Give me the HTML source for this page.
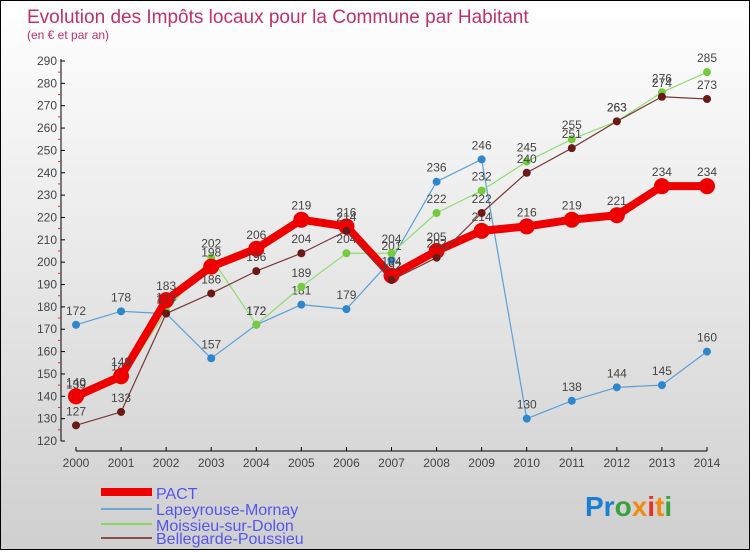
<!DOCTYPE html>
<html><head><meta charset="utf-8"><style>
body{margin:0;width:750px;height:550px;overflow:hidden;font-family:"Liberation Sans",sans-serif}
#wrap{position:relative;width:748px;height:548px;border:1px solid #000;background:linear-gradient(#ffffff,#cfcfcf)}
svg text{font-family:"Liberation Sans",sans-serif}
</style></head><body>
<div id="wrap">
<svg id="chart" width="748" height="548">
<text x="26" y="22" font-size="19" fill="#c0306a">Evolution des Impôts locaux pour la Commune par Habitant</text>
<text x="26" y="38" font-size="12" fill="#c0306a">(en € et par an)</text>
<g id="axes"></g><g id="series"></g>
<g>
<rect x="100" y="487" width="51" height="8" fill="#ee0000"/>
<text x="155" y="498" font-size="16" fill="#5555ee">PACT</text>
<rect x="100" y="507" width="51" height="2" fill="#6fa7d0"/>
<text x="155" y="514" font-size="16" fill="#5555ee">Lapeyrouse-Mornay</text>
<rect x="100" y="522" width="51" height="2" fill="#8ed36a"/>
<text x="155" y="530" font-size="16" fill="#5555ee">Moissieu-sur-Dolon</text>
<rect x="100" y="536" width="51" height="2" fill="#8a5050"/>
<text x="155" y="543" font-size="16" fill="#5555ee">Bellegarde-Poussieu</text>
</g>
<g font-size="28" font-weight="bold">
<text x="584" y="515"><tspan fill="#1a7fd4">Pr</tspan><tspan fill="#3aa040">o</tspan><tspan fill="#f08a10">x</tspan><tspan fill="#ee3020">i</tspan><tspan fill="#f08a10">t</tspan><tspan fill="#3aa040">i</tspan></text>
</g>
</svg></div>
<script>
const years=[2000,2001,2002,2003,2004,2005,2006,2007,2008,2009,2010,2011,2012,2013,2014];
const pact=[140,149,183,198,206,219,216,194,205,214,216,219,221,234,234];
const lapeyrouse=[172,178,177,157,172,181,179,201,236,246,130,138,144,145,160];
const moissieu=[139,147,178,202,172,189,204,204,222,232,245,255,263,276,285];
const bellegarde=[127,133,177,186,196,204,214,192,202,222,240,251,263,274,273];
const yTicks=[120,130,140,150,160,170,180,190,200,210,220,230,240,250,260,270,280,290];
const NS="http://www.w3.org/2000/svg";
const xS=i=>75+i*(706-75)/(years.length-1);
const yS=v=>440-(v-120)*(380/170);
function mk(tag,attrs,parent){const e=document.createElementNS(NS,tag);for(const k in attrs)e.setAttribute(k,attrs[k]);parent.appendChild(e);return e;}
const ax=document.getElementById('axes');
let a=mk('line',{x1:60,y1:58,x2:60,y2:440,stroke:'#000'},ax);


a=mk('line',{x1:75,y1:450,x2:706,y2:450,stroke:'#000'},ax);


yTicks.forEach((t,i)=>{const y=yS(t);
 mk('line',{x1:60,y1:y,x2:64,y2:y,stroke:'#000'},ax);
 if(i<yTicks.length-1)mk('line',{x1:57,y1:y-11.2,x2:60,y2:y-11.2,stroke:'#e03030'},ax);
 const tx=mk('text',{x:56,y:y+4,'font-size':12,fill:'#444','text-anchor':'end'},ax);tx.textContent=t;
 
 
});
years.forEach((yr,i)=>{const x=xS(i);
 mk('line',{x1:x,y1:446,x2:x,y2:450,stroke:'#000'},ax);
 const tx=mk('text',{x:x,y:466,'font-size':12,fill:'#444','text-anchor':'middle'},ax);tx.textContent=yr;
 
 
});
const sg=document.getElementById('series');
function draw(vals,color,w,r,name,dot){
 const g=mk('g',{},sg);
 
 
 const pl=mk('polyline',{points:vals.map((v,i)=>xS(i)+','+yS(v)).join(' '),fill:'none',stroke:color,'stroke-width':w,'stroke-linejoin':'round'},g);
 
 
 vals.forEach((v,i)=>{
  const c=mk('circle',{cx:xS(i),cy:yS(v),r:r,fill:dot||color},g);
  
  
  const t=mk('text',{x:xS(i),y:yS(v)-10,'font-size':12,fill:'#444','text-anchor':'middle'},g);t.textContent=v;
  
  
 });
}
draw(lapeyrouse,'#5aa0d8',1.2,4,'lapeyrouse','#2e86cc');
draw(moissieu,'#90dc70',1.2,4,'moissieu','#74cc3c');
draw(pact,'#ee0000',8,8,'pact','#ee0000');
draw(bellegarde,'#7a3838',1.2,4,'bellegarde','#6a1818');
</script>
</body></html>
